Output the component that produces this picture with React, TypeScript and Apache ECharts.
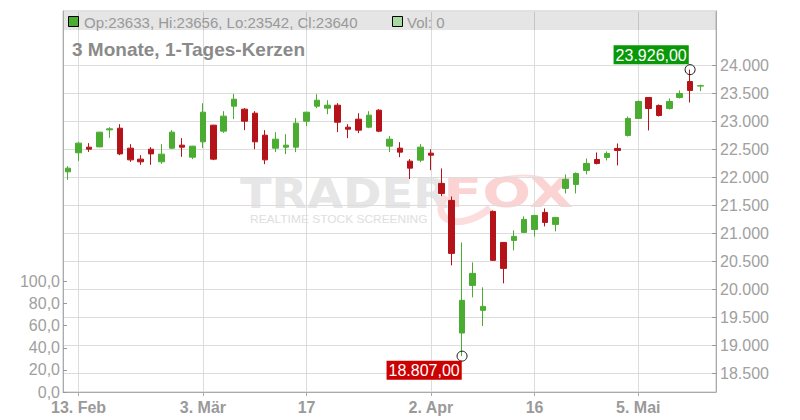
import React, { useEffect, useRef } from 'react';
import * as echarts from 'echarts';

const FONT = '"Liberation Sans", Arial, Helvetica, sans-serif';

// Trading days (one candle each) + one empty slot at the right edge
const dates = [
  '12. Feb', '13. Feb', '14. Feb', '17. Feb', '18. Feb', '19. Feb', '20. Feb', '21. Feb', '24. Feb', '25. Feb', '26. Feb', '27. Feb', '28. Feb',
  '3. Mär', '4. Mär', '5. Mär', '6. Mär', '7. Mär', '10. Mär', '11. Mär', '12. Mär', '13. Mär', '14. Mär', '17. Mär', '18. Mär', '19. Mär', '20. Mär', '21. Mär', '24. Mär', '25. Mär', '26. Mär', '27. Mär', '28. Mär', '31. Mär',
  '1. Apr', '2. Apr', '3. Apr', '4. Apr', '7. Apr', '8. Apr', '9. Apr', '10. Apr', '11. Apr', '14. Apr', '15. Apr', '16. Apr', '17. Apr', '22. Apr', '23. Apr', '24. Apr', '25. Apr', '28. Apr', '29. Apr', '30. Apr',
  '2. Mai', '5. Mai', '6. Mai', '7. Mai', '8. Mai', '9. Mai', '12. Mai', '13. Mai',
];
const padCategories = ['14. Mai'];

const opens = [
  22100, 22440, 22541, 22546, 22850, 22880, 22523, 22327, 22505, 22279, 22523, 22577, 22362,
  22636, 22934, 22827, 23273, 23220, 23148, 22755, 22523, 22541, 22541, 23005, 23273, 23238, 23291, 22898, 23041, 22898, 23202, 22559, 22523, 22291,
  22309, 22434, 21893, 21589, 19220, 20071, 19625, 21393, 20839, 20875, 21018, 21071, 21375, 21161, 21804, 21875, 22125, 22321, 22357, 22518,
  22750, 23054, 23429, 23286, 23232, 23429, 23714, 23633,
];
const closes = [
  22166, 22613, 22505, 22809, 22868, 22421, 22314, 22279, 22421, 22416, 22809, 22541, 22559,
  23166, 22327, 23095, 23398, 23005, 22636, 22314, 22684, 22577, 22970, 23166, 23380, 23291, 22987, 22862, 22845, 23113, 22827, 22684, 22452, 22166,
  22541, 22398, 21714, 20643, 19804, 20286, 19696, 20518, 20375, 20946, 21250, 21321, 21196, 21286, 21964, 22071, 22250, 22250, 22429, 22482,
  23054, 23357, 23232, 23107, 23357, 23500, 23554, 23640,
];
const lows = [
  21957, 22296, 22457, 22540, 22707, 22398, 22279, 22225, 22225, 22243, 22505, 22368, 22327,
  22523, 22309, 22796, 23041, 22845, 22505, 22237, 22452, 22416, 22452, 22916, 23238, 23130, 22809, 22702, 22791, 22880, 22809, 22452, 22362, 21970,
  22273, 22130, 21666, 20429, 18807, 19857, 19345, 20510, 20107, 20696, 21010, 20946, 21125, 21036, 21714, 21714, 22054, 22232, 22304, 22214,
  22732, 23050, 22839, 23089, 23214, 23411, 23339, 23542,
];
const highs = [
  22202, 22636, 22613, 22815, 22898, 22952, 22595, 22398, 22541, 22595, 22845, 22702, 22565,
  23327, 22940, 23184, 23493, 23238, 23184, 22845, 22809, 22773, 23059, 23170, 23488, 23380, 23327, 22952, 23148, 23184, 23220, 22738, 22630, 22327,
  22595, 22505, 22161, 21661, 20839, 20482, 20036, 21411, 20845, 21054, 21304, 21330, 21446, 21290, 22054, 22089, 22339, 22446, 22464, 22607,
  23089, 23375, 23435, 23304, 23411, 23554, 23926, 23656,
];
const volumeLast = 0;

const tickDates = ['13. Feb', '3. Mär', '17. Mär', '2. Apr', '16. Apr', '5. Mai'];
const tickTexts = ['13. Feb', '3. Mär', '17', '2. Apr', '16', '5. Mai'];
const priceTicks = [18500, 19000, 19500, 20000, 20500, 21000, 21500, 22000, 22500, 23000, 23500, 24000];
const volumeTicks = [0, 20, 40, 60, 80, 100];

const GREEN = '#4aad32';
const RED = '#b41419';

const fmtInt = (v: number) => String(Math.round(v)).replace(/\B(?=(\d{3})+(?!\d))/g, '.');
const fmtPrice = (v: number) => fmtInt(v) + ',00';
const fmtVol = (v: number) => v.toFixed(1).replace('.', ',');

export default function App() {
  const ref = useRef<HTMLDivElement>(null);

  useEffect(() => {
    if (!ref.current) return;
    const chart = echarts.init(ref.current, null, { renderer: 'svg' });
    const categories = dates.concat(padCategories);
    const candleData = opens.map((o, i) => [o, closes[i], lows[i], highs[i]]);
    const last = opens.length - 1;
    const minLow = Math.min(...lows);
    const maxHigh = Math.max(...highs);
    const minIdx = lows.indexOf(minLow);
    const maxIdx = highs.indexOf(maxHigh);
    const isTick = (_i: number, v: string) => tickDates.indexOf(v) >= 0;

    const legendText = `Op:${opens[last]}, Hi:${highs[last]}, Lo:${lows[last]}, Cl:${closes[last]}`;
    const WM_FONT = '"DejaVu Sans", sans-serif';

    const option: any = {
      animation: false,
      textStyle: { fontFamily: FONT },
      grid: {
        left: 63, right: 84, top: 11, bottom: 28,
        show: true, borderColor: '#c4c4c4', borderWidth: 1,
        containLabel: false, outerBoundsMode: 'none',
      },
      xAxis: {
        type: 'category',
        data: categories,
        boundaryGap: true,
        axisLine: { show: true, lineStyle: { color: '#aaa', width: 1 } },
        axisTick: { show: true, alignWithLabel: true, interval: isTick, length: 4, lineStyle: { color: '#aaa' } },
        axisLabel: {
          interval: isTick,
          formatter: (v: string) => tickTexts[tickDates.indexOf(v)] ?? '',
          color: '#9a9a9a', fontSize: 16, fontWeight: 'bold', fontFamily: FONT, margin: 7,
        },
        splitLine: { show: false },
      },
      yAxis: [
        {
          type: 'value', position: 'right', min: 18166, max: 24974,
          axisLine: { show: true, lineStyle: { color: '#aaa' } },
          axisTick: { show: true, inside: true, length: 4, customValues: priceTicks, lineStyle: { color: '#999' } },
          axisLabel: { customValues: priceTicks, formatter: (v: number) => fmtInt(v), color: '#a0a0a0', fontSize: 16, fontFamily: FONT, margin: 4 },
          splitLine: { show: true, lineStyle: { color: '#dcdcdc', width: 1 } },
        },
        {
          type: 'value', position: 'left', min: 0, max: 345,
          axisLine: { show: true, lineStyle: { color: '#aaa' } },
          axisTick: { show: true, inside: true, length: 4, customValues: volumeTicks, lineStyle: { color: '#999' } },
          axisLabel: { customValues: volumeTicks, formatter: (v: number) => fmtVol(v), color: '#a0a0a0', fontSize: 16, fontFamily: FONT, margin: 3 },
          splitLine: { show: false },
        },
      ],
      series: [
        {
          type: 'candlestick',
          yAxisIndex: 0,
          data: candleData,
          barWidth: 6,
          itemStyle: { color: GREEN, color0: RED, borderColor: GREEN, borderColor0: RED, borderWidth: 1 },
          markLine: {
            silent: true,
            z: 1,
            symbol: ['none', 'none'],
            label: { show: false },
            lineStyle: { color: '#dcdcdc', type: 'solid', width: 1 },
            emphasis: { disabled: true },
            data: tickDates.map((d) => ({ xAxis: d })),
          },
          markPoint: {
            silent: true,
            data: [
              {
                coord: [dates[minIdx], minLow],
                symbol: 'circle', symbolSize: 10,
                itemStyle: { color: 'rgba(0,0,0,0)', borderColor: '#111', borderWidth: 1 },
                label: {
                  show: true, formatter: fmtPrice(minLow), position: [-70, 10], align: 'left', verticalAlign: 'top',
                  backgroundColor: '#cc0000', color: '#fff', fontSize: 16, lineHeight: 16, padding: [2, 2, 1, 2], fontFamily: FONT,
                },
              },
              {
                coord: [dates[maxIdx], maxHigh],
                symbol: 'circle', symbolSize: 10,
                itemStyle: { color: 'rgba(0,0,0,0)', borderColor: '#111', borderWidth: 1 },
                label: {
                  show: true, formatter: fmtPrice(maxHigh), position: [-71, -19], align: 'left', verticalAlign: 'top',
                  backgroundColor: '#089808', color: '#fff', fontSize: 16, lineHeight: 16, padding: [2, 2, 1, 2], fontFamily: FONT,
                },
              },
            ],
          },
        },
      ],
      graphic: [
        // watermark
        { type: 'text', silent: true, z: 0, x: 240, y: 193, scaleX: 1.13, style: { text: 'TRADER', x: 0, y: 0, verticalAlign: 'middle', lineHeight: 32, fill: '#e6e6e6', fontSize: 41, fontWeight: 'bold', fontFamily: WM_FONT } },
        { type: 'bezierCurve', silent: true, z: 0, shape: { x1: 446, y1: 196, cpx1: 428, cpy1: 222, cpx2: 462, cpy2: 232, x2: 490, y2: 208 }, style: { stroke: '#fcdcdc', lineWidth: 7, fill: 'none' } },
        { type: 'bezierCurve', silent: true, z: 0, shape: { x1: 492, y1: 181, cpx1: 508, cpy1: 175, cpx2: 528, cpy2: 174, x2: 543, y2: 178 }, style: { stroke: '#fcdcdc', lineWidth: 2, fill: 'none' } },
        { type: 'text', silent: true, z: 0, x: 443, y: 193, scaleX: 1.4, style: { text: 'FOX', x: 0, y: 0, verticalAlign: 'middle', lineHeight: 32, fill: '#fbd3d3', fontSize: 41, fontWeight: 'bold', fontFamily: WM_FONT } },
        { type: 'text', silent: true, z: 0, x: 250, y: 219, scaleX: 1.04, style: { text: 'REALTIME STOCK SCREENING', x: 0, y: 0, verticalAlign: 'middle', lineHeight: 10, fill: '#dedede', fontSize: 11.5, fontFamily: FONT } },
        // legend bar
        { type: 'rect', silent: true, z: 10, shape: { x: 64, y: 12, width: 652, height: 18 }, style: { fill: 'rgba(0,0,0,0.1)' } },
        { type: 'rect', silent: true, z: 11, shape: { x: 68.5, y: 16.5, width: 10, height: 10 }, style: { fill: GREEN, stroke: '#000', lineWidth: 1 } },
        { type: 'text', silent: true, z: 11, style: { text: legendText, x: 84, y: 22, verticalAlign: 'middle', fill: '#999', fontSize: 15, fontFamily: FONT } },
        { type: 'rect', silent: true, z: 11, shape: { x: 392.5, y: 16.5, width: 10, height: 10 }, style: { fill: '#a8dba0', stroke: '#000', lineWidth: 1 } },
        { type: 'text', silent: true, z: 11, style: { text: `Vol: ${volumeLast}`, x: 407, y: 22, verticalAlign: 'middle', fill: '#999', fontSize: 15, fontFamily: FONT } },
        // title
        { type: 'text', silent: true, z: 11, style: { text: '3 Monate, 1-Tages-Kerzen', x: 72, y: 49, verticalAlign: 'middle', fill: '#8a8a8a', fontSize: 19, fontWeight: 'bold', fontFamily: FONT } },
      ],
    };
    chart.setOption(option);
    return () => chart.dispose();
  }, []);

  return (
    <div
      ref={ref}
      style={{ position: 'fixed', left: 0, top: 0, width: 800, height: 420, background: '#fff' }}
    />
  );
}
